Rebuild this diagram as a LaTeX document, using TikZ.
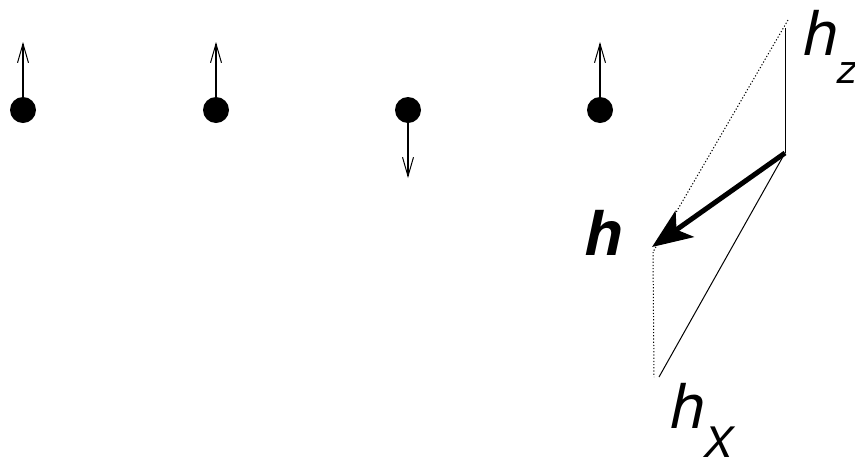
\documentclass[tikz,border=0pt]{standalone}
\usepackage{fontspec}
\setmainfont{TeX Gyre Heros}
\usetikzlibrary{arrows.meta}
\tikzset{
  spin/.style={circle,fill=black,inner sep=0pt,minimum size=26pt},
  spinarrow/.style={line width=1.1pt,-{Straight Barb[length=19pt,width=11pt,line width=1pt]}},
  thin line/.style={line width=1pt},
  dot line/.style={line width=1pt,dash pattern=on 1.2pt off 2pt},
  field/.style={line width=5pt,-{Stealth[length=40pt,width=32pt,inset=10pt]}},
  lab/.style={inner sep=0pt,anchor=base west,font=\fontsize{62pt}{62pt}\selectfont\itshape}
}
\begin{document}
\begin{tikzpicture}[x=1pt,y=-1pt]
\useasboundingbox (0,0) rectangle (855,456);
% spins
\node[spin] (d1) at (23,110) {};
\node[spin] (d2) at (216,110) {};
\node[spin] (d3) at (408,110) {};
\node[spin] (d4) at (600,110) {};
\coordinate (t1) at (23,42);
\coordinate (t2) at (216,42);
\coordinate (t3) at (408,178);
\coordinate (t4) at (600,42);
\draw[spinarrow] (d1.center) -- (t1);
\draw[spinarrow] (d2.center) -- (t2);
\draw[spinarrow] (d3.center) -- (t3);
\draw[spinarrow] (d4.center) -- (t4);
% field construction
\coordinate (o) at (785,153);
\coordinate (z) at (785,28);
\coordinate (zd) at (788,20);
\coordinate (hd) at (653,252);
\coordinate (x) at (659,377);
\coordinate (xd) at (654,377);
\coordinate (tip) at (652,247);
\draw[thin line] (o) -- (z);
\draw[dot line] (zd) -- (hd);
\draw[thin line] (o) -- (x);
\draw[dot line] (hd) -- (xd);
\draw[field] (o) -- (tip);
% labels
\node[lab] (lz) at (803,55) {h\raisebox{-28pt}{\fontsize{40pt}{40pt}\selectfont z}};
\node[lab] (lx) at (670,428) {h\raisebox{-29pt}{\fontsize{42pt}{42pt}\selectfont X}};
\node[lab,font=\fontsize{62pt}{62pt}\selectfont\bfseries\itshape] (lh) at (584,255) {h};
\end{tikzpicture}
\end{document}
